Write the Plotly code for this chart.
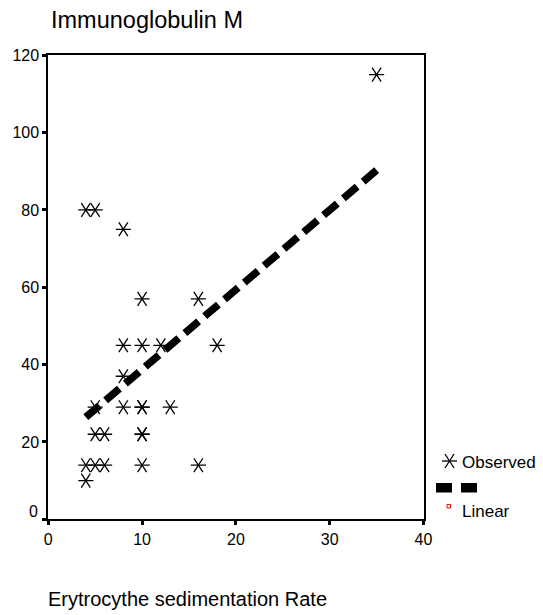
import plotly.graph_objects as go

# ---- data ----
esr = [35, 4, 5, 8, 10, 16, 8, 10, 12, 18, 8, 5, 8, 10, 10, 13, 5, 6, 10, 10, 4, 5, 6, 10, 16, 4]
igm = [115, 80, 80, 75, 57, 57, 45, 45, 45, 45, 37, 29, 29, 29, 29, 29, 22, 22, 22, 22, 14, 14, 14, 14, 14, 10]

fit_x = [4, 35]
fit_y = [26.4, 90.3]

x_ticks = [0, 10, 20, 30, 40]
y_ticks = [0, 20, 40, 60, 80, 100, 120]
y_ticktext = ["", "20", "40", "60", "80", "100", "120"]  # "0" drawn slightly raised, as in the reference

title_text = "Immunoglobulin M"
xtitle_text = "Erytrocythe sedimentation Rate"
legend_labels = ["Observed", "Linear"]

W, H = 543, 615
def px(x):
    return x / W
def py(y):
    return 1 - y / H

FONT = "Liberation Sans, Arial, sans-serif"
TICKFONT = dict(family=FONT, size=16, color="black")

fig = go.Figure()

# asterisk-like markers: horizontal bar + two steep diagonals
for sym, ang, sz in [("line-ew-open", 0, 10.8), ("line-ns-open", 33, 11.8), ("line-ns-open", -33, 11.8)]:
    fig.add_trace(go.Scatter(
        x=esr, y=igm, mode="markers", showlegend=False, hoverinfo="skip",
        marker=dict(symbol=sym, size=sz, angle=ang, color="black",
                    line=dict(color="black", width=1.3)),
    ))

fig.add_trace(go.Scatter(
    x=fit_x, y=fit_y, mode="lines", showlegend=False,
    line=dict(color="black", width=7.5, dash="18px,8px"),
))

axis_common = dict(
    showgrid=False, zeroline=False, showline=True, linecolor="black", linewidth=2,
    mirror=True, ticks="outside", ticklen=4, tickwidth=3, tickcolor="black",
    tickfont=TICKFONT, automargin=False,
)

fig.update_xaxes(range=[0, 40], tickvals=x_ticks, domain=[px(48.3), px(423.5)], **axis_common)
fig.update_yaxes(range=[0, 120], tickvals=y_ticks, ticktext=y_ticktext,
                 domain=[py(519.3), py(55.3)], **axis_common)

shapes = []
# legend star
cx, cy = 449.5, 461
for (x0, y0, x1, y1) in [(-7.5, 0, 7.5, 0), (-4.5, -7, 4.5, 7), (-4.5, 7, 4.5, -7)]:
    shapes.append(dict(type="line", xref="paper", yref="paper", xsizemode="pixel", ysizemode="pixel",
                       xanchor=px(cx), yanchor=py(cy), x0=x0, x1=x1, y0=y0, y1=y1,
                       line=dict(color="black", width=1.3)))
# legend dash sample
for (a, b) in [(436, 452), (461, 477)]:
    shapes.append(dict(type="rect", xref="paper", yref="paper", x0=px(a), x1=px(b), y0=py(492.5), y1=py(483),
                       fillcolor="black", line=dict(width=0)))
# tiny red square
shapes.append(dict(type="rect", xref="paper", yref="paper", x0=px(447), x1=px(450.5), y0=py(508), y1=py(504.5),
                   fillcolor="white", line=dict(color="red", width=1)))

annotations = [
    dict(text=title_text, x=px(49), y=py(20), xref="paper", yref="paper", xanchor="left", yanchor="middle",
         showarrow=False, font=dict(family=FONT, size=23.5, color="black")),
    dict(text=xtitle_text, x=px(46), y=py(599), xref="paper", yref="paper", xanchor="left", yanchor="middle",
         showarrow=False, font=dict(family=FONT, size=20, color="black")),
    dict(text=legend_labels[0], x=px(460), y=py(462), xref="paper", yref="paper", xanchor="left", yanchor="middle",
         showarrow=False, font=dict(family=FONT, size=17, color="black")),
    dict(text=legend_labels[1], x=px(460), y=py(511), xref="paper", yref="paper", xanchor="left", yanchor="middle",
         showarrow=False, font=dict(family=FONT, size=17, color="black")),
    dict(text="0", x=px(40), y=py(511), xref="paper", yref="paper", xanchor="right", yanchor="middle",
         showarrow=False, font=TICKFONT),
]

fig.update_layout(
    width=W, height=H, margin=dict(l=0, r=0, t=0, b=0),
    paper_bgcolor="white", plot_bgcolor="white", showlegend=False,
    shapes=shapes, annotations=annotations,
)

fig.write_html("out.html", config={"displayModeBar": False},
               post_script="document.body.style.margin='0';document.body.style.overflow='hidden';")
